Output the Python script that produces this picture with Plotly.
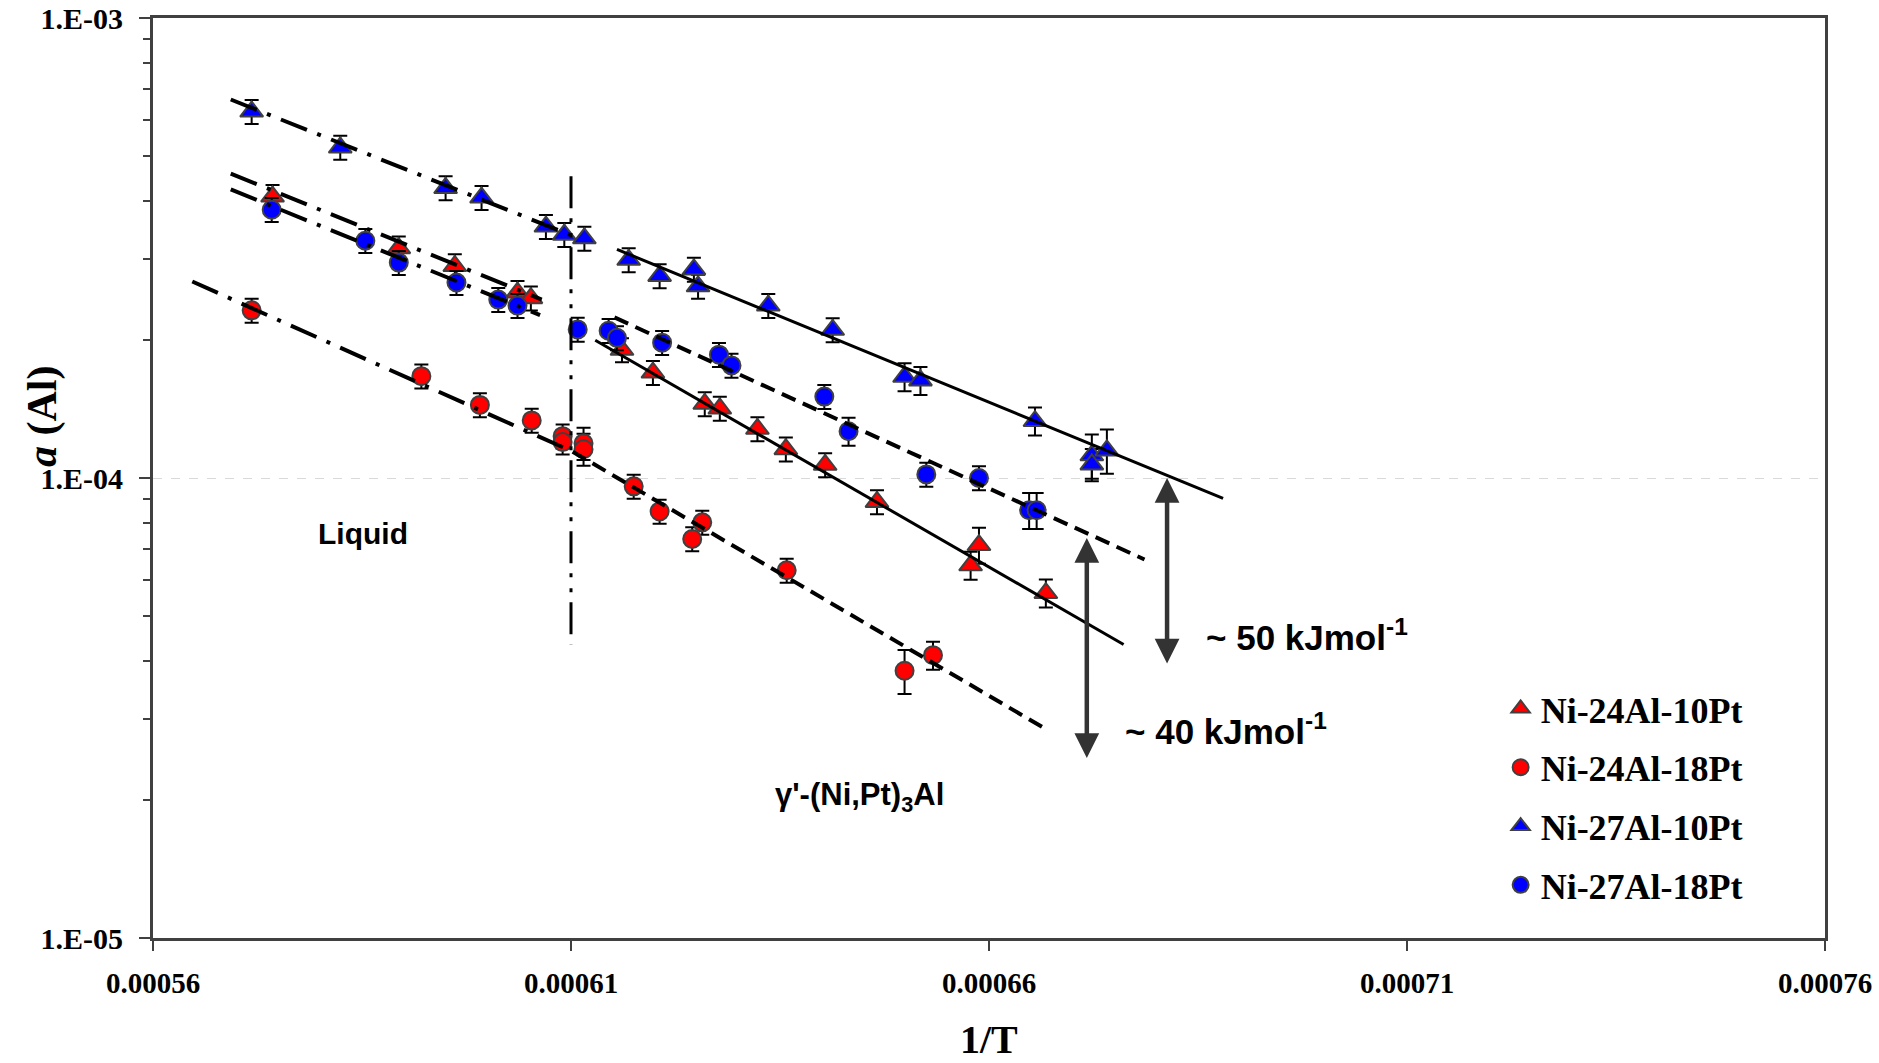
import math
import plotly.graph_objects as go

# ---------------- data ----------------
# Ni-24Al-10Pt (red triangles)
x_24_10 = [0.0005743, 0.0005894, 0.0005961, 0.0006036, 0.0006052, 0.0006161, 0.0006198,
           0.0006260, 0.0006278, 0.0006323, 0.0006357, 0.0006404, 0.0006466, 0.0006578,
           0.0006588, 0.0006668]
y_24_10 = [4.09e-4, 3.16e-4, 2.89e-4, 2.53e-4, 2.46e-4, 1.90e-4, 1.695e-4,
           1.45e-4, 1.416e-4, 1.279e-4, 1.155e-4, 1.068e-4, 8.87e-5, 6.46e-5,
           7.15e-5, 5.62e-5]
e_24_10 = [6, 6, 6, 6, 6, 6, 6, 6, 6, 6, 6, 6, 6, 7, 9, 7]

# Ni-24Al-18Pt (red circles)
x_24_18 = [0.0005718, 0.0005921, 0.0005991, 0.0006053, 0.0006090, 0.0006090, 0.0006115,
           0.0006115, 0.0006175, 0.0006206, 0.0006257, 0.0006245, 0.0006358, 0.0006499,
           0.0006533]
y_24_18 = [2.315e-4, 1.665e-4, 1.442e-4, 1.334e-4, 1.233e-4, 1.197e-4, 1.19e-4,
           1.155e-4, 9.59e-5, 8.46e-5, 8.01e-5, 7.37e-5, 6.30e-5, 3.81e-5,
           4.12e-5]
e_24_18 = [6, 6, 6, 6, 6, 6, 8, 8, 6, 6, 6, 6, 6, 11, 7]

# Ni-27Al-10Pt (blue triangles)
x_27_10 = [0.0005718, 0.0005824, 0.0005950, 0.0005993, 0.0006070, 0.0006092, 0.0006116,
           0.0006169, 0.0006206, 0.0006247, 0.0006252, 0.0006336, 0.0006413, 0.0006499,
           0.0006518, 0.0006655, 0.0006723, 0.0006723, 0.0006741]
y_27_10 = [6.26e-4, 5.23e-4, 4.27e-4, 4.07e-4, 3.52e-4, 3.38e-4, 3.32e-4,
           2.98e-4, 2.75e-4, 2.84e-4, 2.61e-4, 2.37e-4, 2.10e-4, 1.66e-4,
           1.63e-4, 1.33e-4, 1.12e-4, 1.07e-4, 1.148e-4]
e_27_10 = [6, 6, 6, 6, 6, 6, 6, 6, 6, 6, 6, 6, 6, 7, 7, 7, 11, 8, 11]

# Ni-27Al-18Pt (blue circles)
x_27_18 = [0.0005742, 0.0005854, 0.0005894, 0.0005963, 0.0006013, 0.0006036, 0.0006108,
           0.0006145, 0.0006155, 0.0006209, 0.0006277, 0.0006292, 0.0006403, 0.0006432,
           0.0006525, 0.0006588, 0.0006648, 0.0006657]
y_27_18 = [3.83e-4, 3.28e-4, 2.94e-4, 2.66e-4, 2.443e-4, 2.37e-4, 2.104e-4,
           2.09e-4, 2.017e-4, 1.969e-4, 1.854e-4, 1.757e-4, 1.503e-4, 1.264e-4,
           1.018e-4, 1.0e-4, 8.51e-5, 8.51e-5]
e_27_18 = [6, 6, 6, 6, 6, 6, 6, 6, 6, 6, 6, 6, 6, 7, 6, 6, 9, 9]

# fitted lines (end points)
fit_27_10_liq_x = [0.0005693, 0.0006102]
fit_27_10_liq_y = [6.65e-4, 3.36e-4]
fit_24_10_liq_x = [0.0005693, 0.0006065]
fit_24_10_liq_y = [4.59e-4, 2.443e-4]
fit_27_18_liq_x = [0.0005693, 0.0006063]
fit_27_18_liq_y = [4.24e-4, 2.26e-4]
fit_24_18_liq_x = [0.0005647, 0.0006102]
fit_24_18_liq_y = [2.674e-4, 1.141e-4]

fit_27_10_sol_x = [0.0006155, 0.0006880]
fit_27_10_sol_y = [3.14e-4, 9.03e-5]
fit_24_10_sol_x = [0.0006129, 0.0006761]
fit_24_10_sol_y = [1.993e-4, 4.345e-5]
fit_27_18_sol_x = [0.0006152, 0.0006786]
fit_27_18_sol_y = [2.234e-4, 6.65e-5]
fit_24_18_sol_x = [0.0006102, 0.0006664]
fit_24_18_sol_y = [1.141e-4, 2.873e-5]

# liquidus boundary
bound_x = [0.00061, 0.00061]
bound_y = [4.53e-4, 4.345e-5]

# activation-energy arrows
arrow50_x = 0.0006813
arrow50_y = [1.0e-4, 3.92e-5]
arrow40_x = 0.0006717
arrow40_y = [7.41e-5, 2.443e-5]

# axis ticks
x_tickvals = [0.00056, 0.00061, 0.00066, 0.00071, 0.00076]
x_ticktext = ["0.00056", "0.00061", "0.00066", "0.00071", "0.00076"]
y_tickvals = [1e-5, 1e-4, 1e-3]
y_ticktext = ["1.E-05", "1.E-04", "1.E-03"]
y_minor = [k * 10 ** d for d in (-5, -4) for k in range(2, 10)]

# ---------------- figure ----------------
SERIF = "Liberation Serif, Times New Roman, serif"
SANS = "Liberation Sans, Arial, sans-serif"
EDGE = "#404040"

fig = go.Figure()


def add_series(x, y, e, name, color, symbol, size):
    fig.add_trace(go.Scatter(
        x=x, y=y, mode="markers", name=name, legendgroup=name,
        marker=dict(symbol=symbol, size=size, color=color,
                    line=dict(color=EDGE, width=2)),
        error_y=dict(type="data", array=[v * p / 100 for v, p in zip(y, e)],
                     color="black", thickness=2, width=7),
    ))


add_series(x_24_10, y_24_10, e_24_10, "Ni-24Al-10Pt", "#FF0000", "triangle-up", 20)
add_series(x_24_18, y_24_18, e_24_18, "Ni-24Al-18Pt", "#FF0000", "circle", 18)
add_series(x_27_10, y_27_10, e_27_10, "Ni-27Al-10Pt", "#0000FF", "triangle-up", 20)
add_series(x_27_18, y_27_18, e_27_18, "Ni-27Al-18Pt", "#0000FF", "circle", 18)

DASHDOT = "28px,11px,4px,11px"
DASHED = "15px,8px"


def add_line(x, y, dash, width=4):
    fig.add_trace(go.Scatter(x=x, y=y, mode="lines", showlegend=False,
                             hoverinfo="skip",
                             line=dict(color="black", width=width, dash=dash)))


add_line(fit_27_10_liq_x, fit_27_10_liq_y, DASHDOT)
add_line(fit_24_10_liq_x, fit_24_10_liq_y, DASHDOT)
add_line(fit_27_18_liq_x, fit_27_18_liq_y, DASHDOT)
add_line(fit_24_18_liq_x, fit_24_18_liq_y, DASHDOT)
add_line(fit_27_10_sol_x, fit_27_10_sol_y, "solid", 3)
add_line(fit_24_10_sol_x, fit_24_10_sol_y, "solid", 3)
add_line(fit_27_18_sol_x, fit_27_18_sol_y, DASHED)
add_line(fit_24_18_sol_x, fit_24_18_sol_y, DASHED)
add_line(bound_x, bound_y, "32px,10px,4px,11px,4px,10px", 3)

# arrows (log axis -> annotation coordinates in log10)
for ax_x, (ya, yb) in ((arrow50_x, arrow50_y), (arrow40_x, arrow40_y)):
    fig.add_annotation(x=ax_x, y=math.log10(ya), ax=ax_x, ay=math.log10(yb),
                       xref="x", yref="y", axref="x", ayref="y", text="",
                       showarrow=True, arrowside="end+start", arrowhead=2,
                       arrowsize=1.1, arrowwidth=4.5, arrowcolor="#333333")

# text annotations
fig.add_annotation(x=0.0005851, y=math.log10(7.59e-5), text="<b>Liquid</b>",
                   showarrow=False, font=dict(family=SANS, size=30, color="black"))
fig.add_annotation(x=0.0006445, y=math.log10(2.03e-5),
                   text="<b>γ'-(Ni,Pt)<sub>3</sub>Al</b>",
                   showarrow=False, font=dict(family=SANS, size=31, color="black"))
fig.add_annotation(x=0.0006857, y=math.log10(4.56e-5), xanchor="left",
                   text="<b>~ 50 kJmol<sup>-1</sup></b>",
                   showarrow=False, font=dict(family=SANS, size=35, color="black"))
fig.add_annotation(x=0.000676, y=math.log10(2.84e-5), xanchor="left",
                   text="<b>~ 40 kJmol<sup>-1</sup></b>",
                   showarrow=False, font=dict(family=SANS, size=35, color="black"))

# axis titles
fig.add_annotation(x=0.5, y=-0.11, xref="paper", yref="paper", showarrow=False,
                   xanchor="center", yanchor="middle",
                   text="<b>1/T</b>", font=dict(family=SERIF, size=40, color="black"))
fig.add_annotation(x=-0.066, y=0.567, xref="paper", yref="paper", showarrow=False,
                   xanchor="center", yanchor="middle",
                   textangle=-90, text="<b><i>a</i> (Al)</b>",
                   font=dict(family=SERIF, size=42, color="black"))

fig.update_layout(
    width=1879, height=1063,
    margin=dict(l=153, r=54, t=18, b=125, autoexpand=False),
    paper_bgcolor="white", plot_bgcolor="white",
    showlegend=True,
    legend=dict(x=0.806, y=0.282, xanchor="left", yanchor="top",
                font=dict(family=SERIF, size=36, color="black", weight="bold"),
                bgcolor="rgba(0,0,0,0)", tracegroupgap=9,
                itemsizing="trace"),
    xaxis=dict(type="linear", range=[0.00056, 0.00076],
               tickmode="array", tickvals=x_tickvals, ticktext=x_ticktext,
               ticks="outside", ticklen=10, tickwidth=2, tickcolor=EDGE,
               showline=True, linecolor=EDGE, linewidth=3, mirror=True,
               showgrid=False, zeroline=False, ticklabelstandoff=7,
               tickfont=dict(family=SERIF, size=29, color="black", weight="bold")),
    yaxis=dict(type="log", range=[-5, -3],
               tickmode="array", tickvals=y_tickvals, ticktext=y_ticktext,
               ticks="outside", ticklen=11, tickwidth=2, tickcolor=EDGE,
               showline=True, linecolor=EDGE, linewidth=3, mirror=True,
               showgrid=True, gridcolor="#d9d9d9", gridwidth=1, griddash="dash",
               zeroline=False, ticklabelstandoff=10,
               minor=dict(tickmode="array", tickvals=y_minor, ticks="outside",
                          ticklen=7, tickwidth=2, tickcolor=EDGE, showgrid=False),
               tickfont=dict(family=SERIF, size=30, color="black", weight="bold")),
)

fig.write_html("out.html")
